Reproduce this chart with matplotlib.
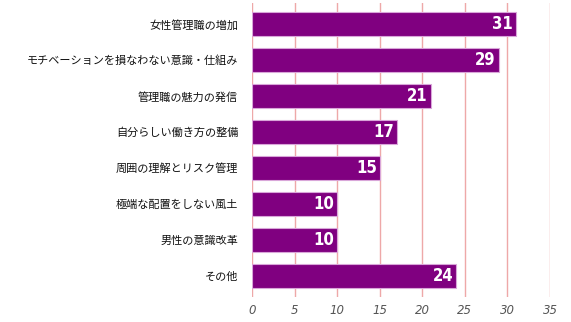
import matplotlib
matplotlib.use('Agg')
import matplotlib.pyplot as plt

plt.rcParams['font.family'] = ['Noto Sans CJK JP', 'DejaVu Sans']

# 項目と件数（上から順に）
items = ['女性管理職の増加', 'モチベーションを損なわない意識・仕組み', '管理職の魅力の発信',
         '自分らしい働き方の整備', '周囲の理解とリスク管理', '極端な配置をしない風土',
         '男性の意識改革', 'その他']
counts = [31, 29, 21, 17, 15, 10, 10, 24]
xticks = [0, 5, 10, 15, 20, 25, 30, 35]

fig = plt.figure(figsize=(5.71, 3.22), dpi=100)
ax = fig.add_axes([252/571, 25/322, 298/571, 294/322])

pos = list(range(len(items)))
ax.barh(pos, counts, height=0.67, color='#800080', edgecolor='#d9a6d9', linewidth=0.8, zorder=3)

for y, v in zip(pos, counts):
    ax.text(v - 0.35, y, str(v), ha='right', va='center', color='white',
            fontsize=12, fontweight='bold', family='DejaVu Sans', fontstretch='condensed', zorder=4)

ax.set_xlim(0, 35)
ax.set_ylim(len(items) - 0.42, -0.58)
ax.set_xticks(xticks)
ax.set_xticklabels([str(t) for t in xticks], fontstyle='italic', color='#555555',
                   fontsize=8.5, family='DejaVu Sans')
ax.set_yticks(pos)
ax.set_yticklabels(items, fontsize=8.0, color='#111111')
ax.tick_params(axis='x', length=0, pad=5)
ax.tick_params(axis='y', length=0, pad=10)
ax.xaxis.grid(True, color='#eea8a8', linewidth=1.0, zorder=0)
for s in ax.spines.values():
    s.set_visible(False)

fig.savefig('out.png', dpi=100)
